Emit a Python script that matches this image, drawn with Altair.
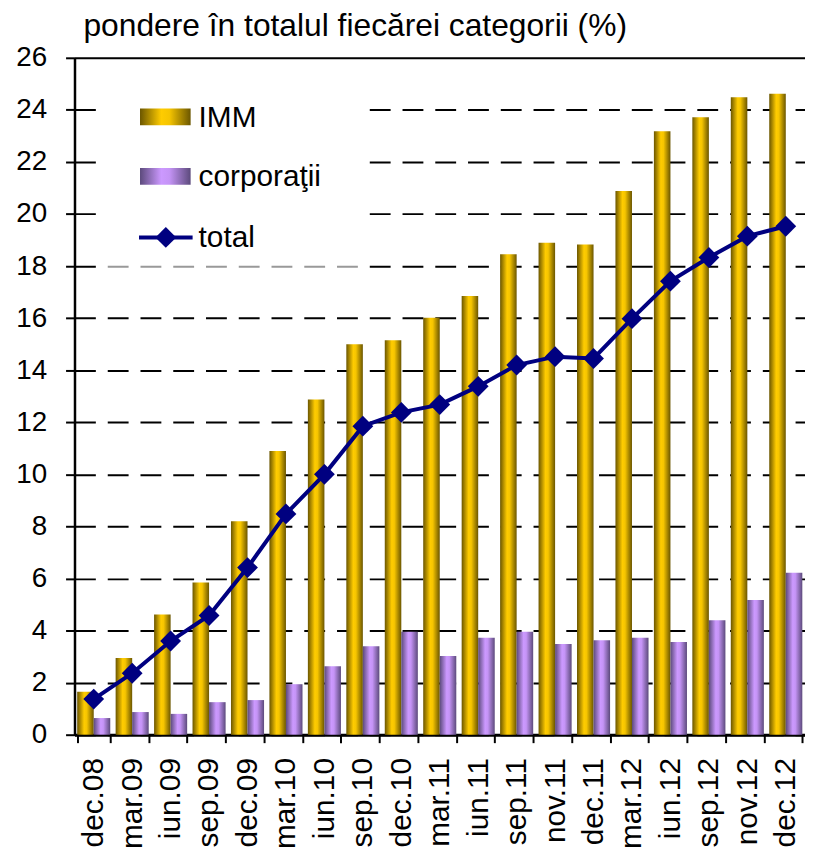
import altair as alt
import pandas as pd

cats = ["dec.08", "mar.09", "iun.09", "sep.09", "dec.09", "mar.10", "iun.10",
        "sep.10", "dec.10", "mar.11", "iun.11", "sep.11", "nov.11", "dec.11",
        "mar.12", "iun.12", "sep.12", "nov.12", "dec.12"]
imm = [1.65, 2.95, 4.62, 5.85, 8.2, 10.9, 12.88, 15.0, 15.15, 16.02, 16.85,
       18.45, 18.9, 18.83, 20.88, 23.18, 23.72, 24.48, 24.62]
corp = [0.64, 0.87, 0.8, 1.25, 1.33, 1.94, 2.63, 3.4, 3.95, 3.02, 3.72,
        3.95, 3.48, 3.63, 3.72, 3.56, 4.4, 5.17, 6.22]
total = [1.37, 2.36, 3.6, 4.58, 6.42, 8.48, 10.0, 11.85, 12.38, 12.68, 13.38,
         14.2, 14.52, 14.45, 15.98, 17.42, 18.33, 19.15, 19.53]
series = ["IMM", "corporaţii", "total"]
title_text = "pondere în totalul fiecărei categorii (%)"

FONT = "Liberation Sans"

bars_df = pd.DataFrame({
    "cat": cats * 2,
    "series": [series[0]] * len(cats) + [series[1]] * len(cats),
    "value": imm + corp,
})
line_df = pd.DataFrame({"cat": cats, "total": total})
one = pd.DataFrame({"a": [0]})

gold = {"gradient": "linear", "x1": 0, "x2": 1, "y1": 0, "y2": 0,
        "stops": [{"offset": 0, "color": "#6b5600"},
                  {"offset": 0.42, "color": "#ffcc00"},
                  {"offset": 0.58, "color": "#f6c500"},
                  {"offset": 1, "color": "#6b5600"}]}
purple = {"gradient": "linear", "x1": 0, "x2": 1, "y1": 0, "y2": 0,
          "stops": [{"offset": 0, "color": "#5c4a7c"},
                    {"offset": 0.42, "color": "#cc99ff"},
                    {"offset": 0.58, "color": "#c594f6"},
                    {"offset": 1, "color": "#5c4a7c"}]}

x_enc = alt.X(
    "cat:N", sort=cats,
    scale=alt.Scale(paddingInner=0.14, paddingOuter=0.07),
    axis=alt.Axis(title=None, labelAngle=-90, labelFontSize=30, labelFont=FONT,
                  labelColor="black", labelPadding=15, tickBand="extent",
                  tickSize=8, tickWidth=2, tickColor="black",
                  domainColor="black", domainWidth=3, grid=False),
)
y_scale = alt.Scale(domain=[0, 26], nice=False)
y_axis = alt.Axis(
    title=None, values=list(range(0, 27, 2)), labelFontSize=28, labelFont=FONT,
    labelColor="black", labelPadding=19, tickSize=9, tickWidth=2,
    tickColor="black", domainColor="black", domainWidth=2.5,
    grid=True, gridColor="black", gridWidth=2,
    gridDash={"condition": {"test": "datum.value === 26", "value": []},
              "value": [21, 12]},
)
xoff = alt.XOffset("series:N", scale=alt.Scale(domain=series[:2],
                                                paddingInner=0, paddingOuter=0))

imm_bars = alt.Chart(bars_df).transform_filter(
    alt.datum.series == series[0]
).mark_bar(fill=gold, strokeWidth=0).encode(
    x=x_enc, xOffset=xoff,
    y=alt.Y("value:Q", scale=y_scale, axis=y_axis),
)
corp_bars = alt.Chart(bars_df).transform_filter(
    alt.datum.series == series[1]
).mark_bar(fill=purple, strokeWidth=0).encode(
    x=x_enc, xOffset=xoff,
    y=alt.Y("value:Q", scale=y_scale, axis=y_axis),
)
line = alt.Chart(line_df).mark_line(
    color="#000080", strokeWidth=4,
    point=alt.OverlayMarkDef(shape="diamond", size=440, filled=True,
                             color="#000080", opacity=1),
).encode(x=x_enc, y=alt.Y("total:Q", scale=y_scale, axis=y_axis))

# legend (drawn in pixel space of the plot area)
box = alt.Chart(one).mark_rect(fill="white").encode(
    x=alt.value(27), x2=alt.value(290), y=alt.value(40), y2=alt.value(205))
box_edge = alt.Chart(one).mark_rect(fill="white", opacity=0.6).encode(
    x=alt.value(28), x2=alt.value(290), y=alt.value(207), y2=alt.value(214))
sw_imm = alt.Chart(one).mark_rect(fill=gold).encode(
    x=alt.value(66), x2=alt.value(117), y=alt.value(51), y2=alt.value(68))
sw_corp = alt.Chart(one).mark_rect(fill=purple).encode(
    x=alt.value(66), x2=alt.value(117), y=alt.value(111), y2=alt.value(128))
sw_line = alt.Chart(one).mark_rule(color="#000080", strokeWidth=4).encode(
    x=alt.value(65), x2=alt.value(119), y=alt.value(181))
sw_pt = alt.Chart(one).mark_point(shape="diamond", size=440, filled=True,
                                  color="#000080", opacity=1).encode(
    x=alt.value(92), y=alt.value(181))
lab_style = dict(font=FONT, fontSize=30, color="black", align="left",
                 baseline="alphabetic")
lab_imm = alt.Chart(one).mark_text(text=series[0], **lab_style).encode(
    x=alt.value(125), y=alt.value(70))
lab_corp = alt.Chart(one).mark_text(text=series[1], **lab_style).encode(
    x=alt.value(125), y=alt.value(129))
lab_tot = alt.Chart(one).mark_text(text=series[2], **lab_style).encode(
    x=alt.value(125), y=alt.value(191))
title = alt.Chart(one).mark_text(text=title_text, font=FONT, fontSize=32,
                                 color="black", align="left",
                                 baseline="alphabetic").encode(
    x=alt.value(9), y=alt.value(-22))

chart = alt.layer(
    imm_bars, corp_bars, box, box_edge, line, sw_imm, sw_corp, sw_line, sw_pt,
    lab_imm, lab_corp, lab_tot, title,
).properties(
    width=736, height=682,
    autosize=alt.AutoSizeParams(type="none"),
    padding={"left": 67, "top": 47, "right": 0, "bottom": 115},
).configure_view(stroke=None).configure(background="white")

chart.save("out.html", embed_options={"renderer": "svg", "actions": False})
